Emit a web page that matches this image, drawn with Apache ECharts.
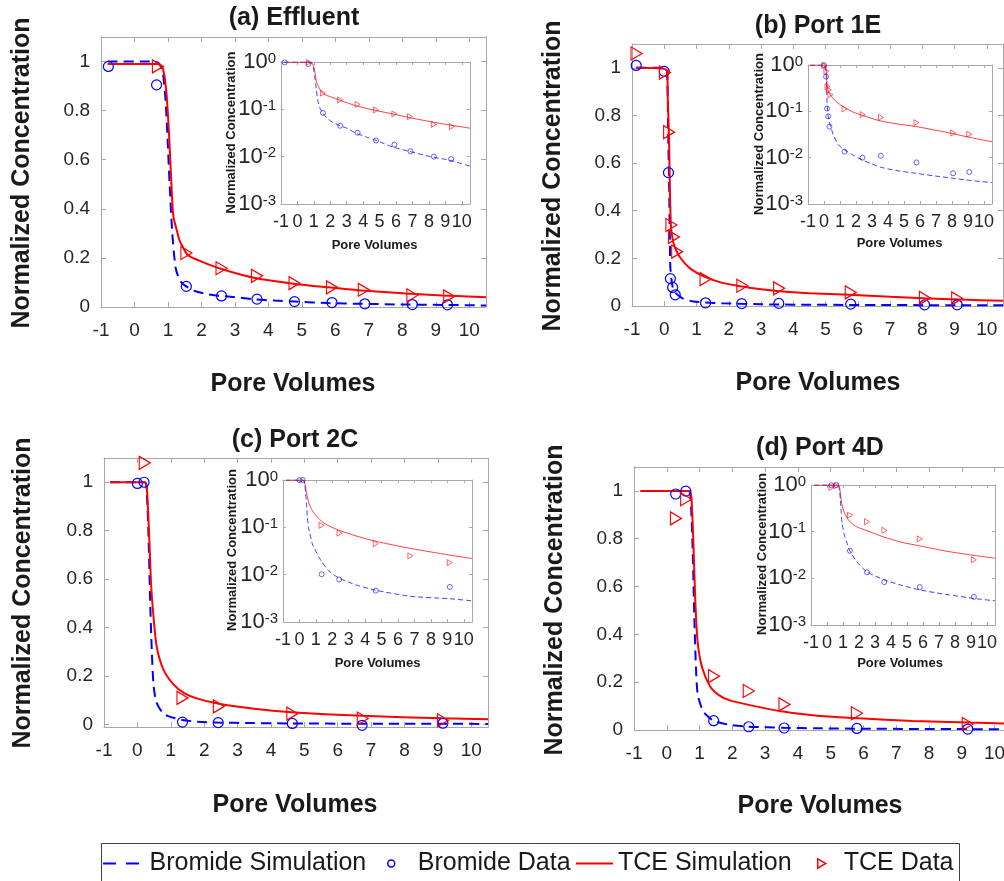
<!DOCTYPE html>
<html><head><meta charset="utf-8">
<script src="https://cdn.jsdelivr.net/npm/echarts@6/dist/echarts.min.js"></script>
<style>html,body{margin:0;padding:0;background:#fff}#c{width:1004px;height:881px}</style>
</head><body><div id="c"></div>
<script>
// ---------- tick labels / names ----------
const xTicks = [-1,0,1,2,3,4,5,6,7,8,9,10];
const yTicks = [0,0.2,0.4,0.6,0.8,1];
const logTicks = [0.001,0.01,0.1,1];
const panelTitles = ['(a) Effluent','(b) Port 1E','(c) Port 2C','(d) Port 4D'];
const seriesNames = ['Bromide Simulation','Bromide Data','TCE Simulation','TCE Data'];
const xAxisTitle = 'Pore Volumes';
const yAxisTitle = 'Normalized Concentration';

// ---------- (a) Effluent ----------
const a_brSimX  = [-0.8,0.6,0.75,0.85,0.93,1.0,1.05,1.13,1.23,1.35,1.5,1.8,2.2,2.6,3.0,3.6,4.2,4.8,5.8,6.8,8.1,9.2,10.5];
const a_brSimY  = [1.0,1.0,0.99,0.95,0.84,0.65,0.5,0.3,0.16,0.11,0.088,0.065,0.052,0.045,0.04,0.031,0.026,0.022,0.016,0.013,0.010,0.0085,0.0063];
const a_tceSimX = [-0.8,0.7,0.85,0.95,1.03,1.1,1.16,1.25,1.35,1.5,1.6,2.0,2.6,3.6,4.8,5.8,6.8,8.1,9.2,10.5];
const a_tceSimY = [0.99,0.99,0.97,0.88,0.71,0.51,0.37,0.32,0.27,0.23,0.21,0.185,0.155,0.118,0.094,0.080,0.067,0.055,0.047,0.040];
const a_brDatX  = [-0.78,0.66,1.55,2.6,3.66,4.78,5.9,6.88,8.3,9.35];
const a_brDatY  = [0.98,0.905,0.084,0.045,0.032,0.022,0.018,0.013,0.010,0.0089];
const a_tceDatX = [0.7,1.55,2.6,3.66,4.78,5.9,6.85,8.3,9.4];
const a_tceDatY = [0.98,0.22,0.158,0.127,0.097,0.08,0.070,0.048,0.043];

// ---------- (b) Port 1E ----------
const b_brSimX  = [-0.87,0.05,0.1,0.12,0.15,0.17,0.19,0.26,0.35,0.46,0.6,0.9,1.27,1.8,2.36,3.0,3.56,4.5,5.73,7.0,8.04,9.2,10.5];
const b_brSimY  = [1.0,1.0,0.93,0.73,0.52,0.31,0.16,0.08,0.055,0.042,0.03,0.019,0.0148,0.0115,0.0090,0.0073,0.0062,0.0053,0.0046,0.0040,0.0036,0.0032,0.0029];
const b_tceSimX = [-0.87,0.08,0.11,0.15,0.18,0.21,0.26,0.32,0.46,0.8,1.3,1.8,2.36,3.0,3.56,4.5,5.73,7.0,8.04,9.2,10.5];
const b_tceSimY = [1.0,0.99,0.87,0.69,0.45,0.33,0.28,0.25,0.21,0.158,0.12,0.097,0.083,0.07,0.062,0.054,0.047,0.039,0.033,0.027,0.022];
const b_brDatX  = [-0.87,0.0,0.13,0.19,0.26,0.34,1.28,2.4,3.55,5.78,8.07,9.08];
const b_brDatY  = [1.01,0.985,0.56,0.115,0.078,0.047,0.0135,0.010,0.011,0.0079,0.0046,0.0049];
const b_tceDatX = [-0.86,0.02,0.15,0.22,0.3,0.4,1.28,2.42,3.56,5.78,8.08,9.08];
const b_tceDatY = [1.06,0.98,0.73,0.34,0.29,0.228,0.113,0.085,0.074,0.057,0.034,0.032];

// ---------- (c) Port 2C ----------
const c_brSimX  = [-0.82,0.22,0.28,0.33,0.38,0.43,0.48,0.55,0.63,0.78,0.94,1.34,1.8,2.4,3.5,4.62,6.74,9.13,10.5];
const c_brSimY  = [1.0,1.0,0.955,0.79,0.52,0.31,0.17,0.10,0.075,0.045,0.034,0.019,0.012,0.0085,0.0060,0.0047,0.0035,0.0031,0.0028];
const c_tceSimX = [-0.82,0.22,0.28,0.35,0.41,0.48,0.58,0.78,1.08,1.4,1.8,2.4,3.5,4.62,6.74,9.13,10.5];
const c_tceSimY = [1.0,1.0,0.98,0.79,0.58,0.45,0.32,0.227,0.166,0.13,0.107,0.087,0.065,0.051,0.036,0.026,0.022];
const c_brDatX  = [0.0,0.2,1.35,2.42,4.64,6.73,9.15];
const c_brDatY  = [0.995,1.0,0.0102,0.0079,0.0046,-0.003,0.0055];
const c_tceDatX = [0.22,1.35,2.44,4.64,6.75,9.15];
const c_tceDatY = [1.08,0.11,0.075,0.045,0.025,0.018];

// ---------- (d) Port 4D ----------
const d_brSimX  = [-0.8,0.66,0.74,0.79,0.84,0.89,0.94,1.02,1.1,1.23,1.44,1.9,2.48,3.58,4.6,5.86,7.5,9.2,10.5];
const d_brSimY  = [1.0,1.0,0.93,0.75,0.47,0.26,0.15,0.11,0.08,0.06,0.038,0.022,0.0139,0.0093,0.0072,0.0056,0.0045,0.0037,0.0033];
const d_tceSimX = [-0.8,0.7,0.77,0.82,0.87,0.94,1.08,1.33,1.6,1.9,2.5,3.55,4.6,5.86,7.5,9.2,10.5];
const d_tceSimY = [1.0,1.0,0.92,0.75,0.54,0.37,0.26,0.18,0.145,0.125,0.105,0.077,0.06,0.049,0.038,0.031,0.027];
const d_brDatX  = [0.27,0.58,1.43,2.5,3.58,5.8,9.18];
const d_brDatY  = [0.987,0.999,0.039,0.0135,0.0083,0.0065,0.0040];
const d_tceDatX = [0.28,0.59,1.44,2.5,3.59,5.8,9.18];
const d_tceDatY = [0.885,0.965,0.225,0.163,0.107,0.07,0.025];

const panelData = [
  [a_brSimX,a_brSimY,a_brDatX,a_brDatY,a_tceSimX,a_tceSimY,a_tceDatX,a_tceDatY],
  [b_brSimX,b_brSimY,b_brDatX,b_brDatY,b_tceSimX,b_tceSimY,b_tceDatX,b_tceDatY],
  [c_brSimX,c_brSimY,c_brDatX,c_brDatY,c_tceSimX,c_tceSimY,c_tceDatX,c_tceDatY],
  [d_brSimX,d_brSimY,d_brDatX,d_brDatY,d_tceSimX,d_tceSimY,d_tceDatX,d_tceDatY]
];

// ---------- layout / style ----------
const FONT = '"Liberation Sans", Arial, Helvetica, sans-serif';
const BLUE = '#0000ff', RED = '#ff0000', AX = '#a8a8a8', LBL = '#262626';
const TRI = 'path://M0,0L12,7L0,14Z';
const DASH_ICON = 'path://M0,0H13V2H0Z M23,0H36V2H23Z';
const layouts = [
  {main:[101,37,385,270], inset:[281,62,189,142], title:[294,18], yName:[22,173], xName:[293,384], iy:[231.5,132.5], ix:[374.5,245], yMin:0},
  {main:[632,44,371,262], inset:[808,65,184,139], title:[818,26.5], yName:[553,176], xName:[818,383.5], iy:[759,134], ix:[899.5,243], yMin:0},
  {main:[104,458,384,269], inset:[283,480,189,142], title:[295,440], yName:[23,593], xName:[295,805], iy:[232.5,550], ix:[377.5,663], yMin:-0.01},
  {main:[634,467,377,263], inset:[811,485,184,140], title:[820,448.5], yName:[555,600], xName:[820,806], iy:[762.5,554], ix:[900,663], yMin:0}
];

function pairs(xs, ys, positiveOnly) {
  const out = [];
  for (let i = 0; i < xs.length; i++) {
    if (positiveOnly && !(ys[i] > 0)) continue;
    out.push([xs[i], ys[i]]);
  }
  return out;
}

const grids = [], xAxes = [], yAxes = [], series = [], graphics = [];

function addGrid(r) {
  grids.push({left:r[0], top:r[1], width:r[2], height:r[3], show:false, containLabel:false, outerBoundsMode:'none'});
  return grids.length - 1;
}

function addAxes(g, inset, yMin) {
  const tickLen = inset ? 3 : 5;
  const baseX = {type:'value', gridIndex:g, min:-1, max:10.5, interval:1,
    axisLine:{show:true, onZero:false, lineStyle:{color:AX, width:1}},
    splitLine:{show:false}};
  const xi = xAxes.length;
  xAxes.push(Object.assign({}, baseX, {position:'bottom',
    axisTick:{show:true, inside:true, length:tickLen, customValues:xTicks, lineStyle:{color:AX}},
    axisLabel:{show:true, customValues:xTicks, fontSize: inset ? 18 : 19, color:LBL, fontFamily:FONT, margin: inset ? 9 : 14,
      formatter: v => String(Math.round(v))}}));
  xAxes.push(Object.assign({}, baseX, {position:'top',
    axisTick:{show:true, inside:true, length:tickLen, customValues:xTicks, lineStyle:{color:AX}},
    axisLabel:{show:false}}));
  const yi = yAxes.length;
  if (!inset) {
    const baseY = {type:'value', gridIndex:g, min:yMin, max:1.1,
      axisLine:{show:true, onZero:false, lineStyle:{color:AX, width:1}}, splitLine:{show:false}};
    yAxes.push(Object.assign({}, baseY, {position:'left',
      axisTick:{show:true, inside:true, length:tickLen, customValues:yTicks, lineStyle:{color:AX}},
      axisLabel:{show:true, customValues:yTicks, fontSize:19, color:LBL, fontFamily:FONT, margin:11,
        formatter: v => String(+(+v).toFixed(1))}}));
    yAxes.push(Object.assign({}, baseY, {position:'right',
      axisTick:{show:true, inside:true, length:tickLen, customValues:yTicks, lineStyle:{color:AX}},
      axisLabel:{show:false}}));
  } else {
    const baseY = {type:'log', logBase:10, gridIndex:g, min:0.001, max:1,
      axisLine:{show:true, onZero:false, lineStyle:{color:AX, width:1}}, splitLine:{show:false}, minorTick:{show:false}};
    yAxes.push(Object.assign({}, baseY, {position:'left',
      axisTick:{show:true, inside:true, length:tickLen, lineStyle:{color:AX}},
      axisLabel:{show:true, color:LBL, fontFamily:FONT, margin:5,
        formatter: v => '{b|10}{s|' + Math.round(Math.log10(v)) + '}',
        rich:{b:{fontSize:22, lineHeight:22, fontFamily:FONT, color:LBL},
              s:{fontSize:15, lineHeight:12, verticalAlign:'top', fontFamily:FONT, color:LBL}}}}));
    yAxes.push(Object.assign({}, baseY, {position:'right',
      axisTick:{show:true, inside:true, length:tickLen, lineStyle:{color:AX}},
      axisLabel:{show:false}}));
  }
  return [xi, yi];
}

function addSeries(d, xi, yi, inset) {
  const pos = inset;
  const lw = inset ? 1 : 2;
  const op = inset ? 0.75 : 1;
  series.push({name:seriesNames[0], type:'line', xAxisIndex:xi, yAxisIndex:yi, data:pairs(d[0], d[1], pos),
    symbol:'none', showSymbol:false, smooth:0.25, clip:true, z: inset ? 3 : 4,
    lineStyle:{color:BLUE, width:lw, type: inset ? [5,3] : [10,6], opacity:op}, itemStyle:{color:BLUE}});
  series.push({name:seriesNames[1], type:'scatter', xAxisIndex:xi, yAxisIndex:yi, data:pairs(d[2], d[3], pos),
    symbol:'circle', symbolSize: inset ? 5 : 10, clip:true, z: inset ? 3 : 5,
    itemStyle:{color:'rgba(0,0,0,0)', borderColor:BLUE, borderWidth: inset ? 0.8 : 1.2, opacity:op}});
  series.push({name:seriesNames[2], type:'line', xAxisIndex:xi, yAxisIndex:yi, data:pairs(d[4], d[5], pos),
    symbol:'none', showSymbol:false, smooth:0.25, clip:true, z: inset ? 3 : 4,
    lineStyle:{color:RED, width:lw, type:'solid', opacity:op}, itemStyle:{color:RED}});
  series.push({name:seriesNames[3], type:'scatter', xAxisIndex:xi, yAxisIndex:yi, data:pairs(d[6], d[7], pos),
    symbol:TRI, symbolSize: inset ? [5,6] : [11,13], clip:true, z: inset ? 3 : 5,
    itemStyle:{color:'rgba(0,0,0,0)', borderColor:RED, borderWidth: inset ? 0.8 : 1.2, opacity:op}});
}

function txt(x, y, text, size, bold, rot) {
  graphics.push({type:'text', x:x, y:y, rotation: rot ? Math.PI/2 : 0, z:100,
    style:{text:text, fill:'#1a1a1a', font:(bold ? 'bold ' : '') + size + 'px ' + FONT,
      textAlign:'center', textVerticalAlign:'middle'}});
}

for (let p = 0; p < 4; p++) {
  const L = layouts[p];
  const gm = addGrid(L.main);
  const [xm, ym] = addAxes(gm, false, L.yMin);
  addSeries(panelData[p], xm, ym, false);
}
for (let p = 0; p < 4; p++) {
  const L = layouts[p];
  const gi = addGrid(L.inset);
  const [xn, yn] = addAxes(gi, true, 0);
  addSeries(panelData[p], xn, yn, true);
  txt(L.title[0], L.title[1], panelTitles[p], 25, true, false);
  txt(L.yName[0], L.yName[1], yAxisTitle, 25, true, true);
  txt(L.xName[0], L.xName[1], xAxisTitle, 25, true, false);
  txt(L.iy[0], L.iy[1], yAxisTitle, 13, true, true);
  txt(L.ix[0], L.ix[1], xAxisTitle, 13, true, false);
}

// legend frame
graphics.push({type:'rect', z:0, shape:{x:101.5, y:843.5, width:858, height:60},
  style:{fill:'none', stroke:'#404040', lineWidth:1}});

const legTxt = {fontSize:25, color:'#1a1a1a', fontFamily:FONT};
const legends = [
  {data:[{name:seriesNames[0], icon:DASH_ICON, itemStyle:{color:BLUE, borderWidth:0}}], left:103, itemWidth:37, itemHeight:2, textStyle:Object.assign({padding:[0,0,0,5]}, legTxt)},
  {data:[{name:seriesNames[1], icon:'circle', itemStyle:{color:'#ffffff', borderColor:BLUE, borderWidth:1.5}}], left:387, itemWidth:7, itemHeight:7, textStyle:Object.assign({padding:[0,0,0,18]}, legTxt)},
  {data:[{name:seriesNames[2], icon:'rect', itemStyle:{color:RED, borderWidth:0}}], left:576, itemWidth:37, itemHeight:2, textStyle:Object.assign({padding:[0,0,0,0]}, legTxt)},
  {data:[{name:seriesNames[3], icon:TRI, itemStyle:{color:'#ffffff', borderColor:RED, borderWidth:1.5}}], left:817, itemWidth:8, itemHeight:10, textStyle:Object.assign({padding:[0,0,0,13]}, legTxt)}
].map(l => Object.assign({top:851, padding:0, selectedMode:false, orient:'horizontal'}, l));

const chart = echarts.init(document.getElementById('c'), null, {renderer:'canvas'});
chart.setOption({
  backgroundColor:'#ffffff',
  animation:false,
  textStyle:{fontFamily:FONT},
  grid:grids, xAxis:xAxes, yAxis:yAxes, series:series,
  legend:legends, graphic:graphics
});
</script></body></html>
